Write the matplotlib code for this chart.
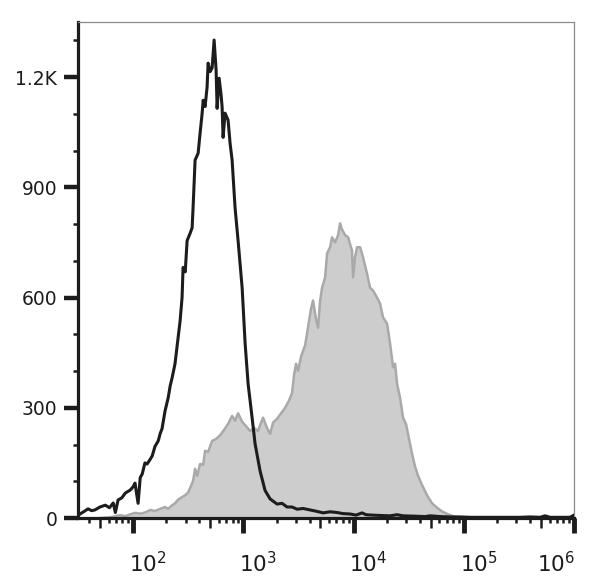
"""Flow cytometry overlay histogram: unstained control (black line) vs stained (grey fill)."""

import matplotlib
matplotlib.use("Agg")
import matplotlib.pyplot as plt
from matplotlib.ticker import FixedLocator, NullFormatter, NullLocator
from matplotlib.transforms import ScaledTranslation

# --- data (fluorescence intensity, event count) ---
CTRL_X = [32, 33, 36, 39, 42, 45, 50, 56, 61, 66, 69, 73, 79, 85, 94, 100, 104,
          111, 116, 121, 128, 134, 143, 149, 158, 169, 176, 183, 195, 208, 217,
          226, 240, 256, 267, 278, 284, 297, 309, 329, 343, 350, 365, 389, 405,
          423, 432, 450, 469, 479, 499, 521, 543, 566, 578, 603, 629, 642, 655,
          683, 727, 758, 791, 841, 896, 975, 1038, 1105, 1201, 1278, 1419, 1574,
          1749, 2023, 2245, 2494, 2767, 3074, 3486, 4031, 4663, 5286, 6118, 7083,
          8033, 9290, 10530, 11940, 12980, 14720, 17390, 21420, 24820, 28120,
          36130, 44550, 49410, 60930, 75080, 92500, 114000, 140400, 173000,
          213200, 262700, 323800, 399000, 491500, 546000, 605600, 746300,
          920000, 1000000]
CTRL_Y = [8, 11, 18, 25, 20, 22, 30, 35, 28, 41, 15, 49, 55, 68, 76, 85, 95,
          40, 110, 120, 150, 147, 160, 169, 195, 210, 230, 243, 292, 327, 360,
          382, 420, 491, 537, 600, 682, 670, 755, 775, 790, 845, 974, 993, 1047,
          1102, 1137, 1120, 1173, 1238, 1215, 1225, 1301, 1220, 1115, 1197, 1150,
          1118, 1036, 1102, 1083, 1020, 974, 845, 755, 627, 475, 365, 273, 202,
          128, 75, 52, 38, 40, 30, 30, 24, 26, 22, 18, 14, 17, 15,
          12, 11, 8, 14, 9, 8, 7, 6, 9, 6,
          5, 4, 6, 4, 3, 3, 2, 2, 2,
          2, 2, 2, 3, 2, 6, 2, 2,
          2, 8]

STAIN_X = [50, 62, 69, 76, 85, 94, 104, 116, 128, 143, 158, 176, 195, 208, 226,
           240, 256, 278, 297, 316, 329, 350, 365, 381, 405, 432, 450, 479, 521,
           566, 615, 669, 727, 791, 841, 896, 975, 1059, 1151, 1252, 1361, 1449,
           1511, 1642, 1749, 1861, 2023, 2199, 2392, 2601, 2767, 2886, 3008,
           3138, 3342, 3634, 3867, 4116, 4291, 4567, 4762, 4966, 5178, 5517,
           5750, 6118, 6380, 6797, 7235, 7544, 7866, 8380, 8926, 9300, 9690,
           9896, 10320, 10760, 11460, 12210, 13250, 14110, 15030, 16330, 17390,
           18520, 20140, 21440, 22830, 23790, 24820, 26430, 28120, 29950, 31880,
           33950, 36130, 38470, 41800, 46420, 51540, 57180, 63500, 71960, 79940,
           88750, 102600]
STAIN_Y = [0, 2, 5, 8, 5, 10, 14, 12, 15, 22, 19, 25, 30, 25, 35,
           40, 50, 57, 62, 70, 82, 101, 134, 115, 147, 145, 183, 180, 210,
           215, 225, 240, 256, 278, 265, 285, 262, 250, 237, 245, 237, 260,
           273, 245, 229, 260, 270, 285, 300, 320, 340, 390, 420,
           401, 440, 470, 520, 570, 592, 540, 518, 590, 627, 655,
           720, 737, 764, 750, 770, 802, 785, 770, 764, 745, 728,
           655, 710, 737, 737, 709, 665, 627, 619, 600, 584,
           546, 529, 475, 410, 420, 365, 327, 273, 255, 215,
           175, 140, 115, 90, 62, 40, 28, 18, 10, 5,
           2, 0]

X_MAJOR = [1e2, 1e3, 1e4, 1e5, 1e6]
X_LABELS = ["$10^{2}$", "$10^{3}$", "$10^{4}$", "$10^{5}$", "$10^{6}$"]
Y_MAJOR = [0, 300, 600, 900, 1200]
Y_LABELS = ["0", "300", "600", "900", "1.2K"]

INK = "#1c1c1c"
FILL = "#cdcdcd"
FILL_EDGE = "#a9a9a9"
FRAME = "#8c8c8c"


def main() -> None:
    fig = plt.figure(figsize=(6.0, 5.87), dpi=100, facecolor="white")
    ax = fig.add_axes([0.13, 0.1175, 0.8267, 0.845])

    ax.fill_between(STAIN_X, STAIN_Y, color=FILL, lw=0, zorder=1)
    ax.plot(STAIN_X, STAIN_Y, color=FILL_EDGE, lw=1.8, zorder=2)
    ax.plot(CTRL_X, CTRL_Y, color=INK, lw=2.2, zorder=3)

    ax.set_xscale("log")
    ax.set_xlim(10 ** 1.5, 1e6)
    ax.set_ylim(0, 1350)

    # x ticks: decades (long), 5x (medium), others (short)
    minors, fives = [], []
    for dec in (1e1, 1e2, 1e3, 1e4, 1e5):
        for k in range(2, 10):
            (fives if k == 5 else minors).append(k * dec)
    ax.xaxis.set_major_locator(FixedLocator(X_MAJOR))
    ax.set_xticklabels(X_LABELS)
    ax.xaxis.set_minor_locator(FixedLocator(minors))
    ax.xaxis.set_minor_formatter(NullFormatter())
    ax.tick_params(axis="x", which="major", length=10.5, width=3.5, color=INK,
                   labelsize=15.5, pad=13, labelcolor=INK)
    ax.tick_params(axis="x", which="minor", length=3.6, width=1.8, color=INK)
    sec = ax.secondary_xaxis("bottom")
    sec.xaxis.set_major_locator(FixedLocator(fives))
    sec.xaxis.set_minor_locator(NullLocator())
    sec.tick_params(length=7, width=1.8, color=INK, labelbottom=False)
    sec.spines["bottom"].set_visible(False)
    # labels start at the tick; the last one is pulled back inside the frame
    offsets = [0.15, 0.15, 0.15, 0.15, -0.18]
    for lab, dx in zip(ax.get_xticklabels(), offsets):
        lab.set_transform(lab.get_transform()
                          + ScaledTranslation(dx, 0, fig.dpi_scale_trans))

    # y ticks
    ax.yaxis.set_major_locator(FixedLocator(Y_MAJOR))
    ax.set_yticklabels(Y_LABELS)
    ax.yaxis.set_minor_locator(FixedLocator([100, 200, 400, 500, 700, 800,
                                             1000, 1100, 1300]))
    ax.tick_params(axis="y", which="major", length=10, width=3.2, color=INK,
                   labelsize=13.5, pad=5, labelcolor=INK)
    ax.tick_params(axis="y", which="minor", length=3.6, width=1.8, color=INK)

    for side in ("left", "bottom"):
        ax.spines[side].set_linewidth(2.3)
        ax.spines[side].set_color(INK)
    for side in ("top", "right"):
        ax.spines[side].set_linewidth(0.9)
        ax.spines[side].set_color(FRAME)

    fig.savefig("out.png", facecolor="white")
    plt.close(fig)


if __name__ == "__main__":
    main()
